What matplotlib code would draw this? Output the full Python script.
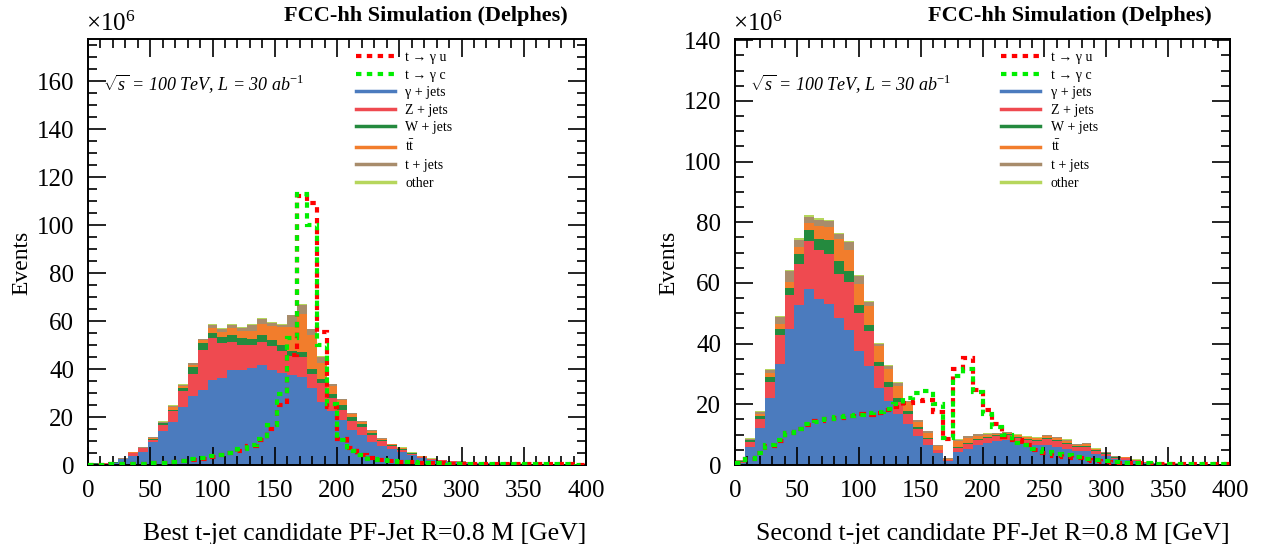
import numpy as np
import matplotlib
matplotlib.use("Agg")
import matplotlib.pyplot as plt
from matplotlib.lines import Line2D
from matplotlib.ticker import MultipleLocator

# ── Data (events x 10^6 per 8 GeV bin, 0-400 GeV) ──────────────
edges = np.arange(0, 401, 8)

processes = ["γ + jets", "Z + jets", "W + jets", r"t$\mathrm{\bar{t}}$", "t + jets", "other"]
colors    = ["#4b7bbe", "#ef4a50", "#248a3e", "#f27d2c", "#a88c6b", "#b6d65c"]

# left: best t-jet candidate mass
best_gjets = [0.4, 0.5, 0.8, 2.3, 3.7, 5.6, 9.5, 14.0, 17.8, 24.0, 28.7, 31.2, 35.5, 36.3, 39.4, 39.5, 40.5,
              41.5, 39.4, 38.3, 37.3, 36.6, 32.2, 26.2, 22.6, 18.8, 14.4, 12.3, 9.5, 7.8, 6.7, 5.3, 4.0, 3.0,
              2.2, 1.7, 1.3, 1.1, 0.9, 0.75, 0.65, 0.55, 0.5, 0.45, 0.4, 0.35, 0.3, 0.3, 0.25, 0.2]
best_zjets = [0.2, 0.15, 0.2, 0.3, 1.3, 1.4, 1.1, 2.8, 4.5, 7.0, 9.1, 16.7, 17.3, 14.5, 11.8, 10.3, 9.3,
              9.7, 10.1, 9.4, 8.3, 8.3, 5.8, 7.8, 5.4, 4.0, 4.1, 3.5, 2.8, 2.0, 1.2, 1.1, 0.6, 0.4,
              0.25, 0.25, 0.2, 0.2, 0.15, 0.1, 0.1, 0.1, 0.1, 0.08, 0.08, 0.07, 0.06, 0.05, 0.05, 0.05]
best_wjets = [0.05, 0.05, 0.05, 0.05, 0.2, 0.1, 0.4, 0.6, 0.7, 1.2, 3.0, 2.9, 2.2, 2.5, 2.9, 3.0, 2.8,
              2.8, 2.4, 2.1, 1.8, 2.1, 2.1, 1.7, 1.6, 2.2, 1.4, 1.4, 0.9, 0.6, 0.3, 0.3, 0.2, 0.1,
              0.05, 0.05, 0.05, 0.05, 0.05, 0.05, 0.05, 0.05, 0.03, 0.03, 0.03, 0.03, 0.03, 0.03, 0.03, 0.03]
best_ttbar = [0.05, 0.05, 0.05, 0.05, 0.1, 0.1, 0.2, 0.3, 1.0, 0.6, 1.0, 1.4, 2.1, 2.2, 2.8, 3.2, 3.2,
              4.8, 6.2, 7.9, 10.0, 15.9, 13.9, 6.7, 3.5, 2.0, 1.4, 0.8, 1.0, 0.6, 0.4, 0.3, 0.2, 0.2,
              0.1, 0.1, 0.1, 0.1, 0.05, 0.05, 0.05, 0.05, 0.03, 0.03, 0.03, 0.03, 0.03, 0.03, 0.03, 0.03]
best_tjets = [0.1, 0.05, 0.1, 0.1, 0.2, 0.2, 0.3, 0.4, 0.7, 0.7, 0.6, 0.2, 1.2, 1.2, 1.6, 1.1, 2.5,
              2.1, 1.1, 0.8, 5.0, 3.8, 2.5, 2.8, 0.5, 0.3, 0.3, 0.3, 0.2, 0.2, 0.2, 0.2, 0.2, 0.1,
              0.1, 0.1, 0.05, 0.05, 0.05, 0.05, 0.05, 0.05, 0.03, 0.03, 0.03, 0.03, 0.03, 0.03, 0.03, 0.03]
best_other = [0.02, 0.02, 0.02, 0.05, 0.1, 0.1, 0.15, 0.2, 0.3, 0.3, 0.3, 0.3, 0.3, 0.3, 0.3, 0.3, 0.3,
              0.3, 0.3, 0.3, 0.3, 0.4, 0.3, 0.3, 0.2, 0.2, 0.2, 0.2, 0.15, 0.1, 0.1, 0.1, 0.05, 0.05,
              0.05, 0.05, 0.02, 0.02, 0.02, 0.02, 0.02, 0.02, 0.02, 0.02, 0.02, 0.02, 0.02, 0.02, 0.02, 0.02]
best_tgu = [0.2, 0.2, 0.3, 0.3, 0.4, 0.5, 0.7, 1.0, 1.3, 1.7, 2.2, 2.7, 3.4, 4.1, 4.8, 6.0, 8.0,
            10.5, 15.0, 25.0, 46.0, 112.0, 109.0, 55.3, 24.0, 11.0, 7.0, 4.2, 2.8, 2.0, 1.6, 1.3, 1.1, 0.9,
            0.8, 0.7, 0.6, 0.6, 0.5, 0.5, 0.45, 0.4, 0.4, 0.35, 0.3, 0.3, 0.3, 0.25, 0.25, 0.2]
best_tgc = [0.2, 0.2, 0.3, 0.3, 0.4, 0.5, 0.7, 1.0, 1.3, 1.8, 2.3, 2.8, 3.6, 4.3, 5.0, 6.5, 8.5,
            11.0, 16.5, 29.6, 53.0, 113.0, 100.0, 50.0, 25.5, 10.5, 6.0, 4.0, 2.6, 2.0, 1.6, 1.3, 1.1, 0.9,
            0.8, 0.7, 0.6, 0.6, 0.5, 0.5, 0.45, 0.4, 0.4, 0.35, 0.3, 0.3, 0.3, 0.25, 0.25, 0.2]

# right: second t-jet candidate mass
second_gjets = [0.6, 5.9, 12.1, 22.1, 33.4, 44.9, 52.6, 57.9, 54.8, 53.0, 48.6, 44.6, 37.6, 32.6, 25.5, 21.0,
                16.9, 13.6, 9.5, 6.5, 3.8, 1.2, 4.3, 5.4, 6.5, 7.4, 7.8, 8.2, 7.6, 7.0, 6.6, 6.7, 6.0, 5.4,
                4.6, 4.5, 3.6, 2.9, 1.9, 1.8, 1.2, 0.7, 0.55, 0.4, 0.35, 0.3, 0.2, 0.2, 0.15, 0.15]
second_zjets = [0.5, 1.6, 3.0, 5.3, 9.5, 11.0, 13.7, 15.8, 15.9, 16.6, 14.4, 15.7, 12.5, 11.5, 7.0, 4.7,
                3.9, 3.3, 2.5, 2.0, 1.0, 0.3, 1.2, 1.5, 1.7, 1.4, 1.7, 1.6, 1.4, 1.3, 1.4, 1.9, 1.8, 1.6,
                1.3, 1.5, 1.0, 0.7, 0.5, 0.4, 0.3, 0.15, 0.12, 0.1, 0.08, 0.05, 0.05, 0.03, 0.03, 0.03]
second_wjets = [0.1, 0.6, 1.0, 1.7, 2.0, 2.5, 3.3, 3.6, 3.9, 4.4, 4.2, 3.5, 2.7, 2.2, 1.5, 1.5,
                1.3, 0.9, 0.5, 0.5, 0.3, 0.1, 0.3, 0.3, 0.3, 0.3, 0.3, 0.3, 0.3, 0.3, 0.3, 0.3, 0.3, 0.3,
                0.2, 0.2, 0.2, 0.2, 0.1, 0.1, 0.1, 0.05, 0.03, 0.03, 0.03, 0.03, 0.03, 0.03, 0.03, 0.03]
second_ttbar = [0.1, 0.3, 0.7, 1.2, 1.7, 1.9, 2.4, 2.4, 4.1, 4.4, 7.3, 7.1, 6.9, 6.0, 5.1, 4.5,
                3.9, 2.8, 1.7, 1.7, 1.2, 0.5, 2.2, 1.8, 1.2, 0.9, 0.5, 0.4, 0.5, 0.5, 0.5, 0.6, 0.7, 0.7,
                0.6, 0.7, 0.4, 0.3, 0.3, 0.3, 0.1, 0.05, 0.03, 0.03, 0.03, 0.03, 0.03, 0.03, 0.03, 0.03]
second_tjets = [0.2, 0.3, 0.8, 0.9, 2.2, 3.5, 2.3, 2.2, 2.2, 2.0, 1.5, 2.6, 2.5, 1.4, 0.9, 1.0,
                1.0, 0.5, 0.5, 0.4, 0.3, 0.2, 0.4, 0.4, 0.4, 0.3, 0.3, 0.3, 0.2, 0.2, 0.2, 0.3, 0.4, 0.4,
                0.3, 0.3, 0.2, 0.2, 0.1, 0.1, 0.1, 0.05, 0.03, 0.03, 0.03, 0.03, 0.03, 0.03, 0.03, 0.03]
second_other = [0.05, 0.2, 0.3, 0.3, 0.3, 0.4, 0.4, 0.4, 0.4, 0.4, 0.3, 0.3, 0.3, 0.3, 0.2, 0.2,
                0.2, 0.1, 0.1, 0.1, 0.05, 0.05, 0.1, 0.1, 0.1, 0.1, 0.1, 0.1, 0.1, 0.1, 0.1, 0.1, 0.1, 0.1,
                0.05, 0.05, 0.05, 0.05, 0.02, 0.02, 0.02, 0.02, 0.02, 0.02, 0.02, 0.02, 0.02, 0.02, 0.02, 0.02]
second_tgu = [0.5, 2.0, 4.0, 6.2, 8.0, 10.5, 12.0, 13.2, 14.5, 15.2, 15.5, 16.3, 16.8, 16.6, 17.2, 18.0,
              19.0, 20.4, 21.0, 21.3, 17.5, 8.7, 31.8, 35.3, 24.6, 18.0, 13.5, 9.3, 8.2, 6.5, 4.9, 3.8, 2.9,
              2.6, 2.2, 1.7, 1.3, 1.0, 0.8, 0.6, 0.5, 0.45, 0.4, 0.35, 0.3, 0.3, 0.25, 0.25, 0.2, 0.2]
second_tgc = [0.5, 2.1, 4.1, 6.5, 8.4, 10.7, 11.8, 13.5, 14.2, 15.0, 15.8, 16.1, 16.4, 17.0, 17.5, 18.3,
              20.0, 22.2, 23.8, 24.3, 20.0, 8.9, 29.2, 31.7, 24.1, 16.8, 12.5, 9.8, 7.3, 6.5, 5.4, 4.3, 3.6,
              3.2, 2.7, 2.1, 1.6, 1.2, 1.0, 0.8, 0.6, 0.5, 0.45, 0.4, 0.35, 0.3, 0.3, 0.25, 0.25, 0.2]

panels = [
    dict(stack=[best_gjets, best_zjets, best_wjets, best_ttbar, best_tjets, best_other],
         tgu=best_tgu, tgc=best_tgc, ymax=177.5, yticks=np.arange(0, 161, 20),
         xlabel="Best t-jet candidate PF-Jet R=0.8 M [GeV]"),
    dict(stack=[second_gjets, second_zjets, second_wjets, second_ttbar, second_tjets, second_other],
         tgu=second_tgu, tgc=second_tgc, ymax=140.4, yticks=np.arange(0, 141, 20),
         xlabel="Second t-jet candidate PF-Jet R=0.8 M [GeV]"),
]

# ── Style ──────────────────────────────────────────────────────
plt.rcParams["font.family"] = ["Liberation Serif", "DejaVu Serif"]
plt.rcParams["mathtext.fontset"] = "custom"
plt.rcParams["mathtext.rm"] = "Liberation Serif"
plt.rcParams["mathtext.it"] = "Liberation Serif:italic"
plt.rcParams["mathtext.bf"] = "Liberation Serif:bold"

W, H = 1265, 544
fig = plt.figure(figsize=(W / 100, H / 100), dpi=100)
ax_px = [(88, 498), (735, 495)]
dash = (0, (1.3, 1.3))

for (x0, w), p in zip(ax_px, panels):
    ax = fig.add_axes([x0 / W, 79 / H, w / W, 426 / H])

    bottom = np.zeros(len(edges) - 1)
    for vals, c in zip(p["stack"], colors):
        top = bottom + np.array(vals)
        ax.stairs(top, edges, baseline=bottom, fill=True, color=c, lw=0)
        bottom = top

    ax.stairs(p["tgu"], edges, baseline=None, color="#ff0000", lw=3.0, linestyle=dash, zorder=3)
    ax.stairs(p["tgc"], edges, baseline=None, color="#00ee00", lw=3.0, linestyle=dash, zorder=4)

    ax.set_xlim(0, 400)
    ax.set_ylim(0, p["ymax"])
    ax.set_xticks(np.arange(0, 401, 50))
    ax.set_yticks(p["yticks"])
    ax.xaxis.set_minor_locator(MultipleLocator(10))
    ax.yaxis.set_minor_locator(MultipleLocator(5))
    ax.tick_params(which="both", direction="in", top=True, right=True, width=1.2, labelsize=18)
    ax.tick_params(which="major", length=13)
    ax.tick_params(which="minor", length=6.5)
    ax.tick_params(axis="x", which="major", pad=11)
    ax.tick_params(axis="y", which="major", pad=10)
    for s in ax.spines.values():
        s.set_linewidth(1.4)

    ax.set_xlabel(p["xlabel"], fontsize=18.5, loc="right", labelpad=15)
    ax.set_ylabel("Events", fontsize=17)
    ax.yaxis.set_label_coords(-56 / w, 0.475)

    ax.text(-2 / w, 1.008, r"$\times10^{6}$", transform=ax.transAxes, fontsize=18,
            ha="left", va="bottom")
    ax.text(0.964, 1.03, "FCC-hh Simulation (Delphes)", transform=ax.transAxes,
            fontsize=16, fontweight="bold", ha="right", va="bottom")
    ax.text(0.03, 0.895, r"$\sqrt{s}$ = 100 TeV, L = 30 ab$^{\mathit{-1}}$",
            transform=ax.transAxes, fontsize=13, style="italic", ha="left", va="center")

    handles = [
        Line2D([], [], color="#ff0000", lw=3.0, linestyle=dash),
        Line2D([], [], color="#00ee00", lw=3.0, linestyle=dash),
    ] + [Line2D([], [], color=c, lw=2.5) for c in colors]
    labels = ["t → γ u", "t → γ c"] + processes
    ax.legend(handles, labels, loc="upper left", bbox_to_anchor=(0.538, 0.972),
              frameon=False, fontsize=10, handlelength=2.8, handletextpad=0.75,
              labelspacing=0.33, borderpad=0, borderaxespad=0)

fig.savefig("out.png", dpi=100)
